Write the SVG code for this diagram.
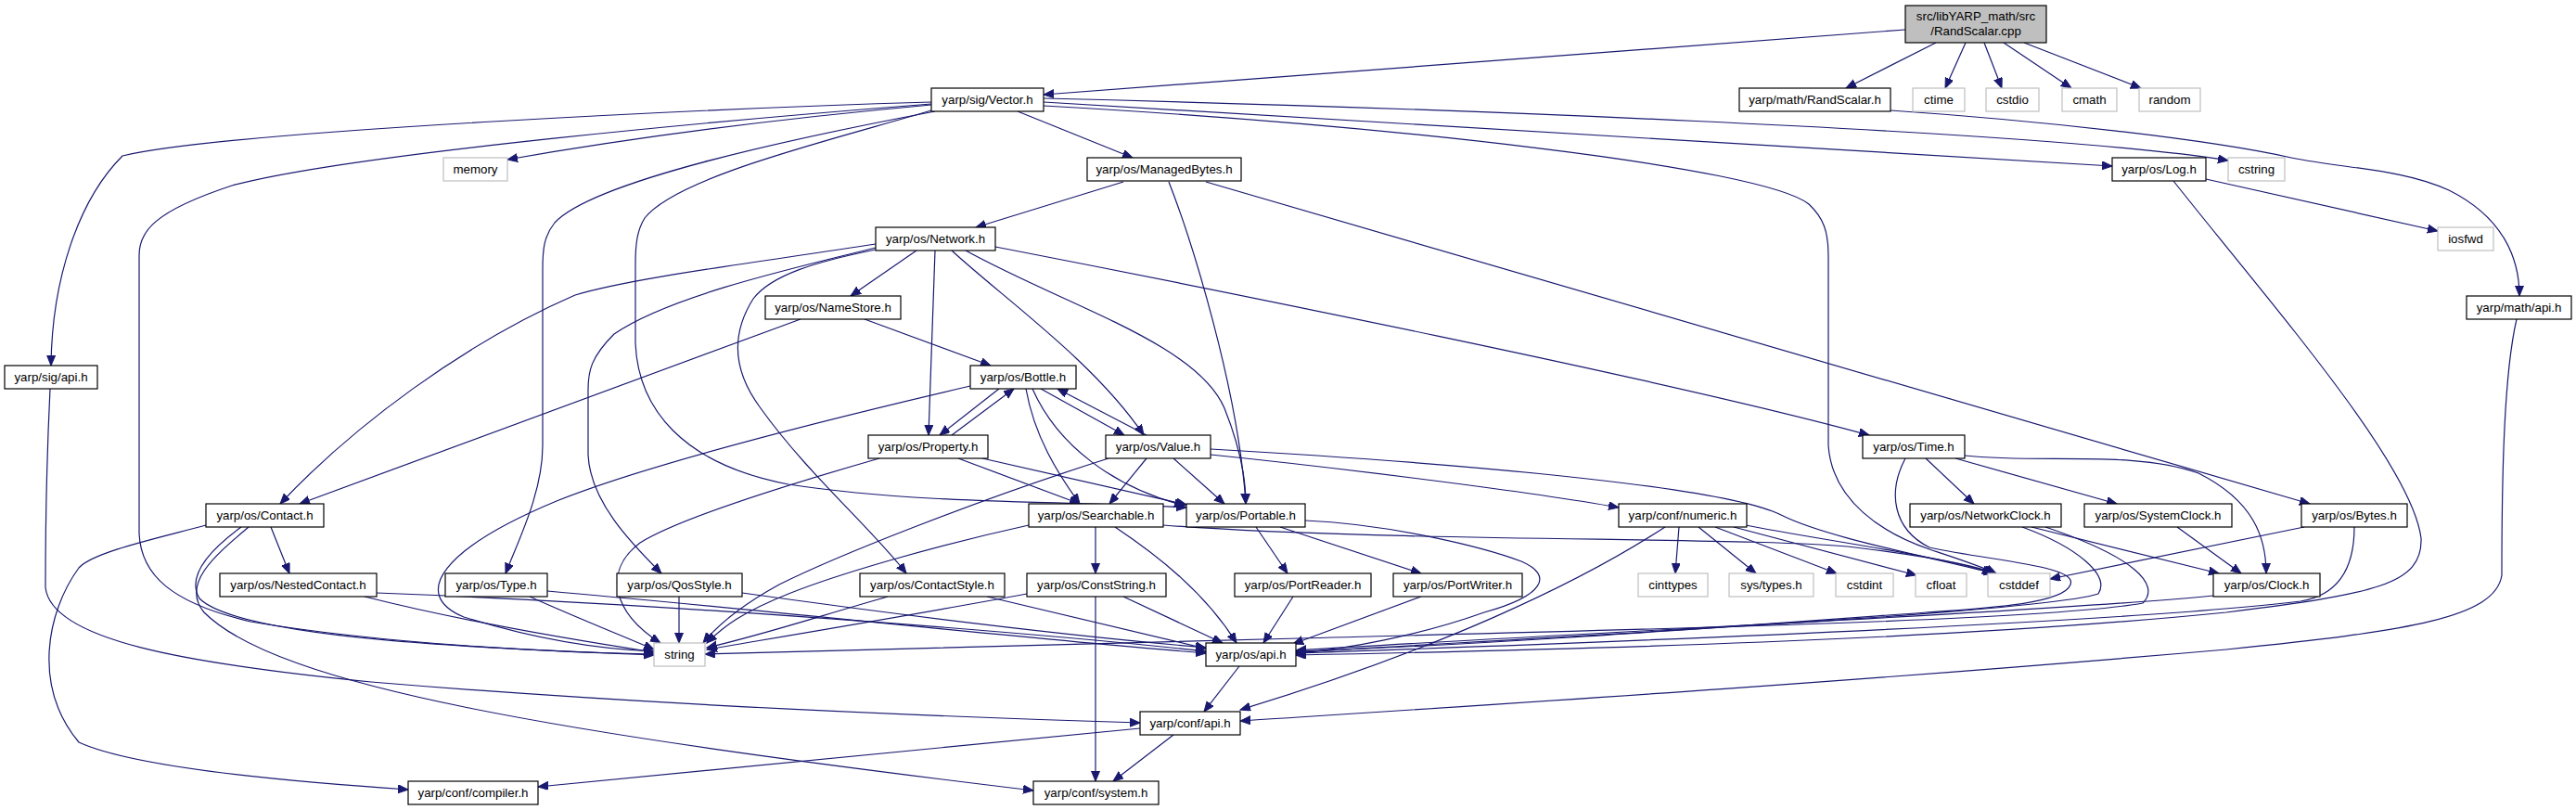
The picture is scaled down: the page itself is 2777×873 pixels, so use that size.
<svg xmlns="http://www.w3.org/2000/svg" width="2777" height="873" viewBox="0 0 2777 873">
<style>
.n rect{fill:#fff;stroke:#000;stroke-width:1.2}
.x rect{fill:#fff;stroke:#bfbfbf;stroke-width:1.2}
.r rect{fill:#bfbfbf;stroke:#000;stroke-width:1.2}
text{font-family:"Liberation Sans",Arial,sans-serif;font-size:13.3px;text-anchor:middle;fill:#000}
#edges path{fill:none;stroke:#191970;stroke-width:1.2;marker-end:url(#a)}
</style>
<defs>
<marker id="a" markerWidth="12" markerHeight="10" refX="11" refY="4.5" orient="auto" markerUnits="userSpaceOnUse"><path d="M0,0 L11,4.5 L0,9 z" fill="#191970" stroke="#191970" stroke-width="1"/></marker>
</defs>
<rect width="2777" height="873" fill="#fff"/>
<g id="edges">
<path d="M2054,32 L1125,102"/>
<path d="M2087,46 L1990,95"/>
<path d="M2119,46 L2097,95"/>
<path d="M2139,46 L2158,95"/>
<path d="M2160,46 L2233,95"/>
<path d="M2182,46 L2308,95"/>
<path d="M2038,119 C2200,130 2380,150 2470,170 C2530,182 2590,182 2640,205 C2700,235 2716,280 2716,319"/>
<path d="M1097,120 L1221,170"/>
<path d="M1004,113 C850,127 700,145 547,172"/>
<path d="M1004,110 C800,116 250,140 132,168 C85,215 56,300 55,394"/>
<path d="M1004,112 C800,128 380,165 250,200 C165,228 150,250 150,275 L150,575 C152,620 185,650 270,670 C420,695 600,703 705,705"/>
<path d="M1008,120 C850,150 640,195 598,240 C586,255 585,270 585,290 L585,480 C585,530 560,580 545,618"/>
<path d="M1004,119 C900,150 730,190 695,235 C687,248 685,262 685,285 L685,370 C688,440 735,500 850,522 C1000,545 1180,540 1279,547"/>
<path d="M1125,110 L2277,179"/>
<path d="M1125,106 C1500,115 2200,140 2402,173"/>
<path d="M1125,114 C1500,135 1900,180 1950,220 C1966,235 1971,250 1971,275 L1971,480 C1975,540 2030,575 2080,592 C2110,602 2135,610 2152,618"/>
<path d="M1211,196 L1052,245"/>
<path d="M1260,196 C1285,260 1335,420 1343,543"/>
<path d="M1300,196 L2490,543"/>
<path d="M944,263 C800,285 680,300 620,318 C500,370 380,460 302,543"/>
<path d="M944,267 C850,290 720,320 662,360 C637,385 634,400 634,420 L634,490 C636,540 680,585 713,618"/>
<path d="M944,269 C880,282 832,296 812,322 C788,360 790,400 820,440 C870,510 940,570 977,618"/>
<path d="M988,270 L917,319"/>
<path d="M1008,270 L1001,469"/>
<path d="M1026,270 C1080,320 1180,390 1233,469"/>
<path d="M1041,270 C1150,330 1290,370 1320,440 C1338,485 1343,520 1343,543"/>
<path d="M1073,266 C1300,310 1800,410 2015,469"/>
<path d="M863,344 L323,543"/>
<path d="M932,344 L1068,394"/>
<path d="M1077,419 L1013,469"/>
<path d="M1026,469 L1093,419"/>
<path d="M1122,419 L1212,469"/>
<path d="M1236,469 L1140,419"/>
<path d="M1106,419 C1115,470 1140,510 1164,543"/>
<path d="M1113,419 C1140,480 1200,525 1277,545"/>
<path d="M1046,416 C900,450 700,500 600,540 C480,590 440,640 500,665 C580,690 650,700 705,702"/>
<path d="M1033,494 L1164,543"/>
<path d="M1059,494 L1279,544"/>
<path d="M948,494 C840,525 730,560 690,585 C650,615 660,660 712,693"/>
<path d="M1236,494 L1196,543"/>
<path d="M1265,494 L1320,543"/>
<path d="M1305,490 C1450,505 1650,530 1745,547"/>
<path d="M1305,484 C1500,495 1850,520 1920,555 C1970,580 2080,600 2150,618"/>
<path d="M1195,494 C1050,540 900,600 840,630 C800,652 775,672 758,693"/>
<path d="M1181,568 L1181,618"/>
<path d="M1202,568 C1250,600 1300,640 1333,693"/>
<path d="M1254,566 C1500,585 1900,578 2000,590 C2080,600 2130,610 2150,618"/>
<path d="M1109,566 C1000,590 900,620 850,640 C800,660 780,675 762,693"/>
<path d="M1354,568 L1388,618"/>
<path d="M1380,568 L1532,618"/>
<path d="M1407,561 C1500,565 1600,590 1640,605 C1675,620 1665,642 1600,660 C1530,685 1450,700 1397,704"/>
<path d="M1394,643 L1362,693"/>
<path d="M1532,643 L1394,694"/>
<path d="M1107,640 C1000,660 850,685 762,700"/>
<path d="M1211,643 L1318,693"/>
<path d="M1181,643 L1181,842"/>
<path d="M957,643 C880,665 820,685 762,698"/>
<path d="M1064,643 L1300,699"/>
<path d="M732,643 L732,693"/>
<path d="M800,639 C950,660 1150,685 1300,698"/>
<path d="M393,643 C500,670 620,690 705,703"/>
<path d="M406,639 C700,650 1100,680 1300,702"/>
<path d="M571,643 C620,665 670,685 705,700"/>
<path d="M590,637 C800,655 1100,688 1300,704"/>
<path d="M292,568 L312,618"/>
<path d="M260,568 C230,590 200,620 215,645 C260,690 550,700 705,706"/>
<path d="M268,568 C230,600 195,630 220,660 C300,740 600,790 1114,852"/>
<path d="M222,566 C170,580 100,595 85,612 C50,660 35,740 85,800 C150,830 350,845 440,851"/>
<path d="M54,419 C50,500 49,580 49,633 C55,690 200,715 400,735 C700,760 1000,772 1229,779"/>
<path d="M1336,718 L1298,767"/>
<path d="M1265,792 L1200,842"/>
<path d="M1229,785 L580,848"/>
<path d="M2713,344 C2700,400 2697,500 2697,620 C2690,665 2600,680 2400,700 C2000,735 1600,760 1337,777"/>
<path d="M1795,568 C1700,630 1550,700 1337,765"/>
<path d="M1810,568 L1806,618"/>
<path d="M1831,568 L1893,618"/>
<path d="M1849,568 L1980,618"/>
<path d="M1869,568 L2066,620"/>
<path d="M1882,566 C1950,580 2100,600 2148,618"/>
<path d="M2378,193 L2628,249"/>
<path d="M2343,195 C2450,330 2600,500 2610,580 C2612,630 2560,640 2400,660 C2100,690 1700,700 1397,706"/>
<path d="M2538,568 C2538,600 2530,640 2480,648 C2300,670 1800,690 1397,704"/>
<path d="M2484,568 L2210,624"/>
<path d="M2386,642 C2200,660 1700,682 1397,701"/>
<path d="M2190,568 L2392,618"/>
<path d="M2180,568 C2240,590 2275,620 2262,640 C2200,660 1700,685 1397,703"/>
<path d="M2205,568 C2300,600 2330,630 2310,650 C2200,670 1700,680 1400,688 C1100,695 900,700 760,705"/>
<path d="M2347,568 L2416,618"/>
<path d="M2076,494 L2128,543"/>
<path d="M2108,494 L2282,543"/>
<path d="M2118,491 C2200,500 2300,485 2370,510 C2430,540 2443,580 2443,618"/>
<path d="M2054,494 C2035,530 2040,570 2080,590 C2150,605 2240,610 2232,630 C2225,650 2150,655 2077,660 C1800,680 1600,695 1397,702"/>
</g>
<g id="n0" class="r"><rect x="2054" y="6" width="152" height="40"/><text x="2130" y="22">src/libYARP_math/src</text><text x="2130" y="38">/RandScalar.cpp</text></g>
<g id="n1" class="n"><rect x="1004" y="95" width="121" height="25"/><text x="1064.5" y="112">yarp/sig/Vector.h</text></g>
<g id="n2" class="n"><rect x="1875" y="95" width="163" height="25"/><text x="1956.5" y="112">yarp/math/RandScalar.h</text></g>
<g id="n3" class="x"><rect x="2062" y="95" width="56" height="25"/><text x="2090" y="112">ctime</text></g>
<g id="n4" class="x"><rect x="2141" y="95" width="57" height="25"/><text x="2169.5" y="112">cstdio</text></g>
<g id="n5" class="x"><rect x="2223" y="95" width="59" height="25"/><text x="2252.5" y="112">cmath</text></g>
<g id="n6" class="x"><rect x="2306" y="95" width="66" height="25"/><text x="2339" y="112">random</text></g>
<g id="n7" class="x"><rect x="478" y="170" width="69" height="25"/><text x="512.5" y="187">memory</text></g>
<g id="n8" class="n"><rect x="1172" y="170" width="166" height="25"/><text x="1255" y="187">yarp/os/ManagedBytes.h</text></g>
<g id="n9" class="n"><rect x="2277" y="170" width="101" height="25"/><text x="2327.5" y="187">yarp/os/Log.h</text></g>
<g id="n10" class="x"><rect x="2402" y="170" width="61" height="25"/><text x="2432.5" y="187">cstring</text></g>
<g id="n11" class="n"><rect x="944" y="245" width="129" height="25"/><text x="1008.5" y="262">yarp/os/Network.h</text></g>
<g id="n12" class="x"><rect x="2628" y="245" width="60" height="25"/><text x="2658" y="262">iosfwd</text></g>
<g id="n13" class="n"><rect x="825" y="319" width="146" height="25"/><text x="898" y="336">yarp/os/NameStore.h</text></g>
<g id="n14" class="n"><rect x="2659" y="319" width="113" height="25"/><text x="2715.5" y="336">yarp/math/api.h</text></g>
<g id="n15" class="n"><rect x="5" y="394" width="100" height="25"/><text x="55" y="411">yarp/sig/api.h</text></g>
<g id="n16" class="n"><rect x="1046" y="394" width="114" height="25"/><text x="1103" y="411">yarp/os/Bottle.h</text></g>
<g id="n17" class="n"><rect x="936" y="469" width="129" height="25"/><text x="1000.5" y="486">yarp/os/Property.h</text></g>
<g id="n18" class="n"><rect x="1192" y="469" width="113" height="25"/><text x="1248.5" y="486">yarp/os/Value.h</text></g>
<g id="n19" class="n"><rect x="2008" y="469" width="110" height="25"/><text x="2063" y="486">yarp/os/Time.h</text></g>
<g id="n20" class="n"><rect x="222" y="543" width="127" height="25"/><text x="285.5" y="560">yarp/os/Contact.h</text></g>
<g id="n21" class="n"><rect x="1109" y="543" width="145" height="25"/><text x="1181.5" y="560">yarp/os/Searchable.h</text></g>
<g id="n22" class="n"><rect x="1279" y="543" width="128" height="25"/><text x="1343" y="560">yarp/os/Portable.h</text></g>
<g id="n23" class="n"><rect x="1745" y="543" width="138" height="25"/><text x="1814" y="560">yarp/conf/numeric.h</text></g>
<g id="n24" class="n"><rect x="2059" y="543" width="163" height="25"/><text x="2140.5" y="560">yarp/os/NetworkClock.h</text></g>
<g id="n25" class="n"><rect x="2247" y="543" width="159" height="25"/><text x="2326.5" y="560">yarp/os/SystemClock.h</text></g>
<g id="n26" class="n"><rect x="2481" y="543" width="114" height="25"/><text x="2538" y="560">yarp/os/Bytes.h</text></g>
<g id="n27" class="n"><rect x="237" y="618" width="169" height="25"/><text x="321.5" y="635">yarp/os/NestedContact.h</text></g>
<g id="n28" class="n"><rect x="480" y="618" width="110" height="25"/><text x="535" y="635">yarp/os/Type.h</text></g>
<g id="n29" class="n"><rect x="665" y="618" width="135" height="25"/><text x="732.5" y="635">yarp/os/QosStyle.h</text></g>
<g id="n30" class="n"><rect x="927" y="618" width="156" height="25"/><text x="1005" y="635">yarp/os/ContactStyle.h</text></g>
<g id="n31" class="n"><rect x="1107" y="618" width="150" height="25"/><text x="1182" y="635">yarp/os/ConstString.h</text></g>
<g id="n32" class="n"><rect x="1331" y="618" width="147" height="25"/><text x="1404.5" y="635">yarp/os/PortReader.h</text></g>
<g id="n33" class="n"><rect x="1502" y="618" width="139" height="25"/><text x="1571.5" y="635">yarp/os/PortWriter.h</text></g>
<g id="n34" class="x"><rect x="1766" y="618" width="75" height="25"/><text x="1803.5" y="635">cinttypes</text></g>
<g id="n35" class="x"><rect x="1864" y="618" width="91" height="25"/><text x="1909.5" y="635">sys/types.h</text></g>
<g id="n36" class="x"><rect x="1979" y="618" width="62" height="25"/><text x="2010" y="635">cstdint</text></g>
<g id="n37" class="x"><rect x="2065" y="618" width="55" height="25"/><text x="2092.5" y="635">cfloat</text></g>
<g id="n38" class="x"><rect x="2143" y="618" width="67" height="25"/><text x="2176.5" y="635">cstddef</text></g>
<g id="n39" class="n"><rect x="2386" y="618" width="115" height="25"/><text x="2443.5" y="635">yarp/os/Clock.h</text></g>
<g id="n40" class="x"><rect x="705" y="693" width="55" height="25"/><text x="732.5" y="710">string</text></g>
<g id="n41" class="n"><rect x="1300" y="693" width="97" height="25"/><text x="1348.5" y="710">yarp/os/api.h</text></g>
<g id="n42" class="n"><rect x="1229" y="767" width="108" height="25"/><text x="1283" y="784">yarp/conf/api.h</text></g>
<g id="n43" class="n"><rect x="440" y="842" width="140" height="25"/><text x="510" y="859">yarp/conf/compiler.h</text></g>
<g id="n44" class="n"><rect x="1114" y="842" width="135" height="25"/><text x="1181.5" y="859">yarp/conf/system.h</text></g>
</svg>
